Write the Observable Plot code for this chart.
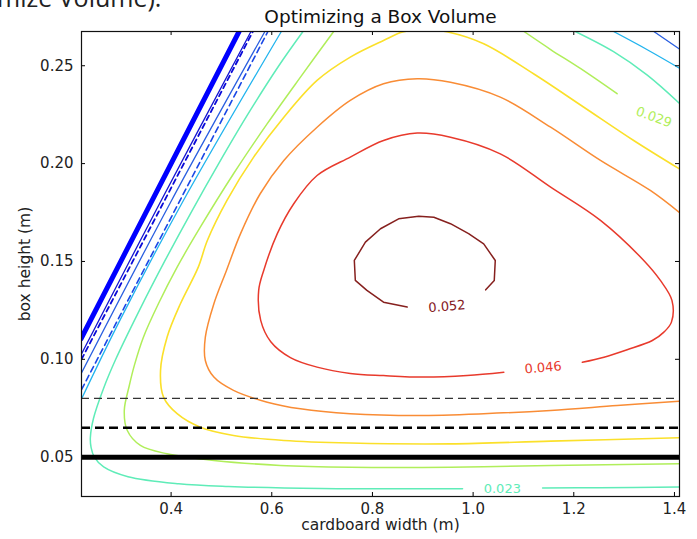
<!DOCTYPE html>
<html><head><meta charset="utf-8">
<script src="https://cdn.jsdelivr.net/npm/d3@7"></script>
<script src="https://cdn.jsdelivr.net/npm/@observablehq/plot@0.6"></script>
<style>
body{margin:0;background:#fff;}
#wrap{position:relative;width:697px;height:539px;overflow:hidden;background:#fff;}
#wrap svg{position:absolute;left:0;top:0;}
#topline{position:absolute;left:-3px;top:-15px;font-family:"Open Sans";font-size:25px;line-height:1;color:#222;white-space:nowrap;}
</style></head><body><div id="wrap"></div>
<script>
// axes
const xTicks = [0.4, 0.6, 0.8, 1.0, 1.2, 1.4];
const yTicks = [0.05, 0.10, 0.15, 0.20, 0.25];

// contour paths: cardboard width (m) / box height (m)
const zeroW = [0.221, 0.535];
const zeroH = [0.1105, 0.2675];
const lvl1W = [0.222, 0.378, 0.5587];
const lvl1H = [0.1028, 0.18, 0.2675];
const dash1W = [0.222, 0.5625];
const dash1H = [0.1000, 0.2675];
const lvl2W = [0.222, 0.3985, 0.5864];
const lvl2H = [0.093, 0.18, 0.2675];
const lvl2bW = [1.359, 1.409];
const lvl2bH = [0.2675, 0.2587];
const dash2W = [0.222, 0.5923];
const dash2H = [0.0845, 0.2675];
const lvl3W = [0.222, 0.2985, 0.422, 0.619];
const lvl3H = [0.0797, 0.12, 0.18, 0.2675];
const lvl3bW = [1.279, 1.346, 1.409];
const lvl3bH = [0.2675, 0.2582, 0.2489];

const aquaW = [0.662,0.614,0.552,0.4945,0.4396,0.387,0.337,0.29,0.2656,0.246,0.2396,0.241,0.2475,0.266,0.3144,0.415,0.514,0.697,0.8,0.979];
const aquaH = [0.2675,0.25,0.225,0.2,0.175,0.15,0.125,0.10,0.085,0.07,0.06,0.055,0.05,0.045,0.04,0.0364,0.035,0.034,0.0339,0.0339];
const aquaBW = [1.138, 1.25, 1.41];
const aquaBH = [0.0342, 0.0344, 0.0347];
const aquaCW = [1.203, 1.279, 1.346, 1.409];
const aquaCH = [0.2675, 0.2572, 0.2452, 0.2310];

const greenW = [0.723,0.657,0.591,0.524,0.458,0.412,0.375,0.345,0.327,0.317,0.307,0.313,0.339,0.392,0.485,0.617,0.756,0.955,1.154,1.409];
const greenH = [0.2675,0.2442,0.2204,0.1948,0.1675,0.1471,0.1285,0.1113,0.0969,0.0866,0.0739,0.0636,0.0560,0.0517,0.0483,0.0458,0.0449,0.0449,0.0458,0.0466];
const greenBW = [1.101, 1.154, 1.213, 1.286];
const greenBH = [0.2675, 0.2583, 0.2486, 0.2357];

const yellowW = [1.409,1.319,1.220,1.120,1.021,0.950,0.905,0.860,0.822,0.756,0.690,0.624,0.564,0.511,0.472,0.454,0.4185,0.392,0.379,0.385,0.412,0.458,0.524,0.624,0.756,0.955,1.154,1.409];
const yellowH = [0.1974,0.2118,0.2288,0.2459,0.2612,0.2672,0.2685,0.2672,0.2629,0.2544,0.2425,0.2237,0.2033,0.1812,0.1607,0.1471,0.1284,0.1113,0.0943,0.0807,0.0722,0.0653,0.0611,0.0585,0.0572,0.0568,0.0582,0.0599];

const orangeW = [1.409,1.352,1.253,1.154,1.054,0.955,0.889,0.822,0.756,0.690,0.624,0.577,0.538,0.510,0.485,0.468,0.468,0.485,0.524,0.591,0.657,0.756,0.889,1.021,1.154,1.286,1.409];
const orangeH = [0.1752,0.1863,0.2016,0.2186,0.2340,0.2416,0.2434,0.2408,0.2323,0.2186,0.2016,0.1846,0.1642,0.1454,0.1284,0.1113,0.0994,0.0909,0.0841,0.0781,0.0747,0.0722,0.0713,0.0722,0.0739,0.0764,0.0786];

const redW = [1.061,0.988,0.902,0.822,0.756,0.690,0.637,0.598,0.578,0.574,0.584,0.611,0.644,0.690,0.756,0.822,0.889,0.955,1.054,1.154,1.253,1.339,1.372,1.395,1.394,1.379,1.356,1.306,1.260,1.217];
const redH = [0.0934,0.0917,0.0909,0.0917,0.0928,0.0960,0.1009,0.1090,0.1199,0.1352,0.1454,0.1642,0.1796,0.1939,0.2033,0.2118,0.2156,0.2135,0.2050,0.1880,0.1710,0.1505,0.1403,0.1301,0.1190,0.1139,0.1096,0.1049,0.1011,0.0985];

const darkRedW = [0.869,0.822,0.789,0.766,0.764,0.786,0.816,0.852,0.892,0.922,0.955,0.991,1.021,1.044,1.042,1.025];
const darkRedH = [0.1267,0.1292,0.1352,0.1403,0.1505,0.1599,0.1667,0.1718,0.1731,0.1726,0.1693,0.1642,0.1590,0.1505,0.1403,0.1355];

// contour labels
const labelText = ["0.052", "0.046", "0.023", "0.029"];
const labelW = [0.948, 1.139, 1.058, 1.359];
const labelH = [0.127, 0.0957, 0.0339, 0.2237];

// horizontal guide heights
const guideH = [0.05, 0.065, 0.08];

const C = {
  zero: "#0000ff", l1: "#1414d2", d1: "#0a0ad8", l2: "#2a5fe0", d2: "#1a48e6", l3: "#22b4ee",
  aqua: "#5fecb8", green: "#b0ee5a", yellow: "#fbe02a", orange: "#f98c35", red: "#e83a2c", dark: "#86201e"
};

const series = [
  {w: lvl3W, h: lvl3H, stroke: C.l3, width: 1.3},
  {w: lvl3bW, h: lvl3bH, stroke: C.l3, width: 1.3},
  {w: dash2W, h: dash2H, stroke: C.d2, width: 1.6, dash: "6,4"},
  {w: lvl2W, h: lvl2H, stroke: C.l2, width: 1.3},
  {w: lvl2bW, h: lvl2bH, stroke: C.l2, width: 1.3},
  {w: dash1W, h: dash1H, stroke: C.d1, width: 1.8, dash: "5,4"},
  {w: lvl1W, h: lvl1H, stroke: C.l1, width: 1.3},
  {w: zeroW, h: zeroH, stroke: C.zero, width: 5},
  {w: aquaW, h: aquaH, stroke: C.aqua, width: 1.5},
  {w: aquaBW, h: aquaBH, stroke: C.aqua, width: 1.5},
  {w: aquaCW, h: aquaCH, stroke: C.aqua, width: 1.5},
  {w: greenW, h: greenH, stroke: C.green, width: 1.5},
  {w: greenBW, h: greenBH, stroke: C.green, width: 1.5},
  {w: yellowW, h: yellowH, stroke: C.yellow, width: 1.6},
  {w: orangeW, h: orangeH, stroke: C.orange, width: 1.5},
  {w: redW, h: redH, stroke: C.red, width: 1.5},
  {w: darkRedW, h: darkRedH, stroke: C.dark, width: 1.5, curve: "linear"}
];

const labelRows = labelText.map((t, i) => ({t, w: labelW[i], h: labelH[i]}));
const labelStyle = [
  {fill: C.dark, rotate: -5}, {fill: C.red, rotate: -5}, {fill: C.aqua, rotate: 0}, {fill: C.green, rotate: 20}
];

const marks = [];
for (const s of series) {
  marks.push(Plot.line(s.w.map((w, i) => ({w, h: s.h[i]})), {
    x: "w", y: "h", stroke: s.stroke, strokeWidth: s.width,
    strokeDasharray: s.dash, curve: s.curve || "catmull-rom", clip: true
  }));
}
labelRows.forEach((r, i) => {
  marks.push(Plot.text([r], {x: "w", y: "h", text: "t", fill: labelStyle[i].fill, rotate: labelStyle[i].rotate, fontSize: 13}));
});
marks.push(
  Plot.ruleY([guideH[2]], {stroke: "#333", strokeWidth: 1.3, strokeDasharray: "8,5"}),
  Plot.ruleY([guideH[1]], {stroke: "#000", strokeWidth: 2.6, strokeDasharray: "9,5"}),
  Plot.ruleY([guideH[0]], {stroke: "#000", strokeWidth: 5}),
  Plot.ruleX(xTicks, {stroke: "#000", insetTop: 461}),
  Plot.ruleX(xTicks, {stroke: "#000", insetBottom: 461}),
  Plot.ruleY(yTicks, {stroke: "#000", insetRight: 594}),
  Plot.ruleY(yTicks, {stroke: "#000", insetLeft: 594}),
  Plot.axisX(xTicks, {tickSize: 0, tickPadding: 7, tickFormat: d => d.toFixed(1), label: null, fontSize: 15, fill: "#222"}),
  Plot.axisY(yTicks, {tickSize: 0, tickPadding: 8, tickFormat: d => d.toFixed(2), label: null, fontSize: 15, fill: "#222"}),
  Plot.frame({stroke: "#111", strokeWidth: 1.2}),
  Plot.text(["Optimizing a Box Volume"], {frameAnchor: "top", lineAnchor: "middle", dy: -14, fontSize: 18.5, fill: "#111"}),
  Plot.text(["cardboard width (m)"], {frameAnchor: "bottom", lineAnchor: "middle", dy: 29, fontSize: 15.5, fill: "#222"}),
  Plot.text(["box height (m)"], {frameAnchor: "left", textAnchor: "middle", lineAnchor: "middle", dx: -56, rotate: -90, fontSize: 15.5, fill: "#222"})
);

const chart = Plot.plot({
  width: 697, height: 539,
  marginTop: 31, marginBottom: 43, marginLeft: 81, marginRight: 18,
  x: {domain: [0.222, 1.41]},
  y: {domain: [0.0299, 0.2675]},
  style: {fontFamily: "DejaVu Sans", background: "#fff", color: "#222"},
  marks
});
const wrap = document.getElementById("wrap");
wrap.appendChild(chart);
const topLine = document.createElement("div");
topLine.id = "topline";
topLine.textContent = "mize Volume).";
wrap.appendChild(topLine);
</script>
</body></html>
